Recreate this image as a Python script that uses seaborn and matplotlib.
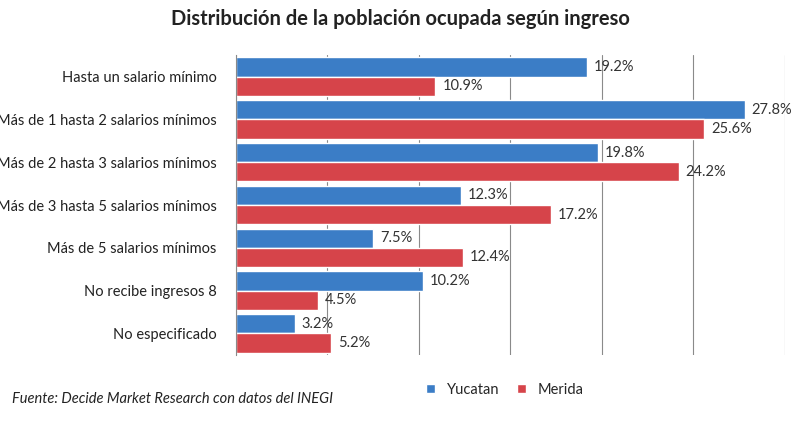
import matplotlib
matplotlib.use("Agg")
import matplotlib.pyplot as plt
import seaborn as sns
import pandas as pd

categories = ["Hasta un salario mínimo", "Más de 1 hasta 2 salarios mínimos",
              "Más de 2 hasta 3 salarios mínimos", "Más de 3 hasta 5 salarios mínimos",
              "Más de 5 salarios mínimos", "No recibe ingresos 8", "No especificado"]
yucatan = [19.2, 27.8, 19.8, 12.3, 7.5, 10.2, 3.2]
merida = [10.9, 25.6, 24.2, 17.2, 12.4, 4.5, 5.2]
series = ["Yucatan", "Merida"]

sns.set_style("white")
plt.rcParams['font.family'] = ['Lato', 'DejaVu Sans']

df = pd.DataFrame({
    "cat": categories * 2,
    "val": yucatan + merida,
    "serie": [series[0]] * len(categories) + [series[1]] * len(categories),
})

fig = plt.figure(figsize=(8, 4.24), dpi=100)
ax = fig.add_axes([0.295, 0.163, 0.686, 0.707])
sns.barplot(data=df, y="cat", x="val", hue="serie", orient="h", ax=ax,
            palette=["#3B7DC6", "#D6444A"], width=0.9, saturation=1, legend=True)

ax.set_xlim(0, 30)
ax.set_xticks(range(0, 31, 5))
ax.set_xticklabels([])
ax.grid(axis="x", color="#8a8a8a", linewidth=0.8)
ax.set_axisbelow(True)
for s in ["top", "right", "bottom"]:
    ax.spines[s].set_visible(False)
ax.spines["left"].set_color("#8a8a8a")
ax.tick_params(axis="both", length=0)
ax.set_xlabel("")
ax.set_ylabel("")
ax.tick_params(axis="y", labelsize=10.5, colors="#222222", pad=14)

for cont in ax.containers:
    ax.bar_label(cont, labels=[f"{v:.1f}%" for v in cont.datavalues],
                 padding=5, fontsize=10.5, color="#333333")

ax.legend(loc="upper center", bbox_to_anchor=(0.49, -0.05), ncol=2, frameon=False,
          fontsize=10.5, handlelength=0.6, handleheight=0.6, columnspacing=1.2)

fig.text(0.5, 0.94, "Distribución de la población ocupada según ingreso",
         ha="center", fontsize=14.5, fontweight="bold", color="#222222")
fig.text(0.015, 0.05, "Fuente: Decide Market Research con datos del INEGI",
         ha="left", fontsize=10.5, style="italic", color="#222222")

fig.savefig("out.png", dpi=100)
